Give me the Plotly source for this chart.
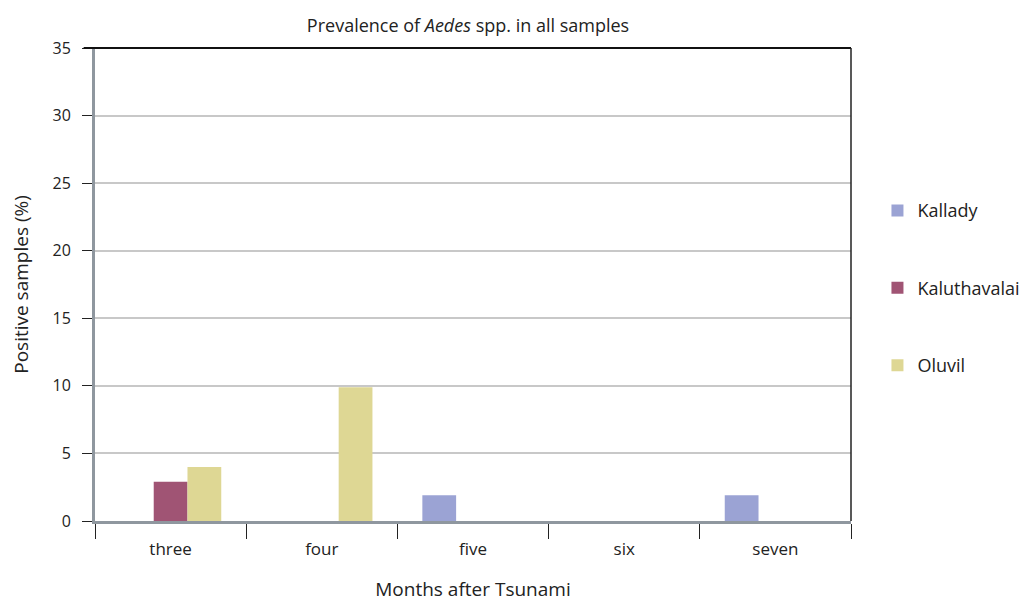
import plotly.graph_objects as go

months = ["three", "four", "five", "six", "seven"]
kallady = [0, 0, 1.9, 0, 1.9]
kaluthavalai = [2.9, 0, 0, 0, 0]
oluvil = [4, 9.9, 0, 0, 0]

series = [
    ("Kallady", kallady, "#9ba3d4"),
    ("Kaluthavalai", kaluthavalai, "#a05474"),
    ("Oluvil", oluvil, "#ded794"),
]

fig = go.Figure()
for name, vals, col in series:
    fig.add_trace(go.Bar(x=months, y=vals, name=name, marker_color=col,
                         marker_line_width=0, legendgroup=name))

font = "Open Sans, Noto Sans, sans-serif"
fig.update_layout(
    width=1028, height=601,
    paper_bgcolor="white", plot_bgcolor="white",
    margin=dict(l=87, r=185, t=40, b=88, autoexpand=False),
    barmode="group", bargap=0.33, bargroupgap=0,
    font=dict(family=font, size=16, color="#222"),
    title=dict(text="Prevalence of <i>Aedes</i> spp. in all samples",
               x=0.4475, xanchor="center", y=0.97, yanchor="middle",
               font=dict(size=18, color="#222")),
    legend=dict(x=1.035, xanchor="left", y=0.695, yanchor="top",
                traceorder="grouped", tracegroupgap=51,
                font=dict(size=18, color="#222"), itemwidth=30),
    xaxis=dict(
        showline=True, linecolor="#8f979f", linewidth=3,
        ticks="outside", tickson="boundaries", ticklen=15, tickcolor="#222",
        tickwidth=1, showgrid=False, ticklabelstandoff=11,
        tickfont=dict(size=17),
        title=dict(text="Months after Tsunami", font=dict(size=19), standoff=24),
    ),
    yaxis=dict(
        range=[0, 35], dtick=5,
        showline=True, linecolor="#8f979f", linewidth=3,
        ticks="outside", ticklen=10, tickcolor="#222", tickwidth=1,
        ticklabelstandoff=8, tickfont=dict(size=16),
        showgrid=True, gridcolor="#c8c8c8", gridwidth=1.5,
        zeroline=False,
        title=dict(text="Positive samples (%)", font=dict(size=19), standoff=21),
    ),
)

# top and right border of the plot frame
fig.add_shape(type="line", xref="paper", yref="paper", x0=-0.015, x1=1, y0=1, y1=1,
              line=dict(color="#111", width=2))
fig.add_shape(type="line", xref="paper", yref="paper", x0=1, x1=1, y0=1, y1=0,
              line=dict(color="#222", width=1.5))

fig.write_html("out.html")
